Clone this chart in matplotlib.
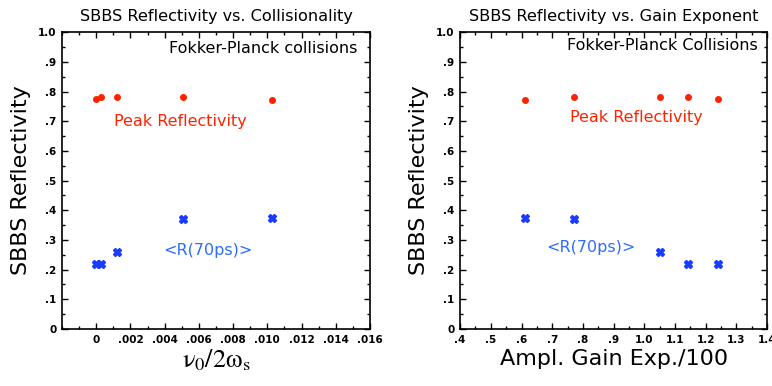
import numpy as np
import matplotlib
matplotlib.use('Agg')
from matplotlib import pyplot as plt
from matplotlib.ticker import MultipleLocator

# collisionality scan
nu_coll = [0.0, 0.0003, 0.0012, 0.0051, 0.0103]
peak_coll = [0.775, 0.78, 0.78, 0.78, 0.77]
r70_coll = [0.22, 0.22, 0.26, 0.37, 0.375]

# gain exponent scan
gain = [0.61, 0.77, 1.052, 1.141, 1.241]
peak_gain = [0.77, 0.78, 0.78, 0.78, 0.775]
r70_gain = [0.375, 0.37, 0.26, 0.22, 0.22]

y_ticks = [0, 0.1, 0.2, 0.3, 0.4, 0.5, 0.6, 0.7, 0.8, 0.9, 1.0]
y_labels = ['0', '.1', '.2', '.3', '.4', '.5', '.6', '.7', '.8', '.9', '1.0']
x1_ticks = [0, 0.002, 0.004, 0.006, 0.008, 0.010, 0.012, 0.014, 0.016]
x1_labels = ['0', '.002', '.004', '.006', '.008', '.010', '.012', '.014', '.016']
x2_ticks = [0.4, 0.5, 0.6, 0.7, 0.8, 0.9, 1.0, 1.1, 1.2, 1.3, 1.4]
x2_labels = ['.4', '.5', '.6', '.7', '.8', '.9', '1.0', '1.1', '1.2', '1.3', '1.4']

RED = '#ff2200'
BLUE = '#1a3cff'
BLUE_TXT = '#2f6bff'

plt.rcParams['font.family'] = 'DejaVu Sans'


def style_axes(ax, xticks, xlabels, xminor):
    ax.set_ylim(0, 1.0)
    ax.set_yticks(y_ticks)
    ax.set_yticklabels(y_labels)
    ax.set_xticks(xticks)
    ax.set_xticklabels(xlabels)
    ax.yaxis.set_minor_locator(MultipleLocator(0.05))
    ax.xaxis.set_minor_locator(MultipleLocator(xminor))
    ax.tick_params(which='both', direction='in', top=True, right=True,
                   labelsize=7.5, width=1.0, pad=4)
    ax.tick_params(which='major', length=4)
    ax.tick_params(which='minor', length=2.5)
    for lab in ax.get_xticklabels() + ax.get_yticklabels():
        lab.set_fontweight('bold')
    for s in ax.spines.values():
        s.set_linewidth(1.2)
    ax.set_ylabel('SBBS Reflectivity', fontsize=16, labelpad=5)


fig = plt.figure(figsize=(7.72, 3.86), dpi=100)
ax1 = fig.add_axes([0.0803, 0.1477, 0.399, 0.769])
ax2 = fig.add_axes([0.596, 0.1477, 0.3977, 0.769])

ax1.plot(nu_coll, peak_coll, 'o', color=RED, ms=4, mec=RED)
ax1.plot(nu_coll, r70_coll, 'X', color=BLUE, ms=5.5, mec=BLUE)
ax1.set_xlim(-0.002, 0.016)
style_axes(ax1, x1_ticks, x1_labels, 0.001)
ax1.set_title('SBBS Reflectivity vs. Collisionality', fontsize=11.6, pad=8)
ax1.set_xlabel(r'$\mathrm{\nu_0/2\omega_s}$', fontsize=19, labelpad=2)
ax1.xaxis.label.set_math_fontfamily('stix')
ax1.text(0.96, 0.945, 'Fokker-Planck collisions', transform=ax1.transAxes,
         ha='right', va='center', fontsize=11.5)
ax1.text(0.00104, 0.70, 'Peak Reflectivity', color=RED, fontsize=11.5,
         va='center')
ax1.text(0.0039, 0.263, '<R(70ps)>', color=BLUE_TXT, fontsize=11.5,
         va='center')

ax2.plot(gain, peak_gain, 'o', color=RED, ms=4, mec=RED)
ax2.plot(gain, r70_gain, 'X', color=BLUE, ms=5.5, mec=BLUE)
ax2.set_xlim(0.4, 1.4)
style_axes(ax2, x2_ticks, x2_labels, 0.05)
ax2.set_title('SBBS Reflectivity vs. Gain Exponent', fontsize=11.6, pad=8)
ax2.set_xlabel('Ampl. Gain Exp./100', fontsize=16, labelpad=3)
ax2.text(0.97, 0.955, 'Fokker-Planck Collisions', transform=ax2.transAxes,
         ha='right', va='center', fontsize=11.5)
ax2.text(0.758, 0.714, 'Peak Reflectivity', color=RED, fontsize=11.5,
         va='center')
ax2.text(0.68, 0.276, '<R(70ps)>', color=BLUE_TXT, fontsize=11.5,
         va='center')

fig.savefig('out.png', dpi=100)
